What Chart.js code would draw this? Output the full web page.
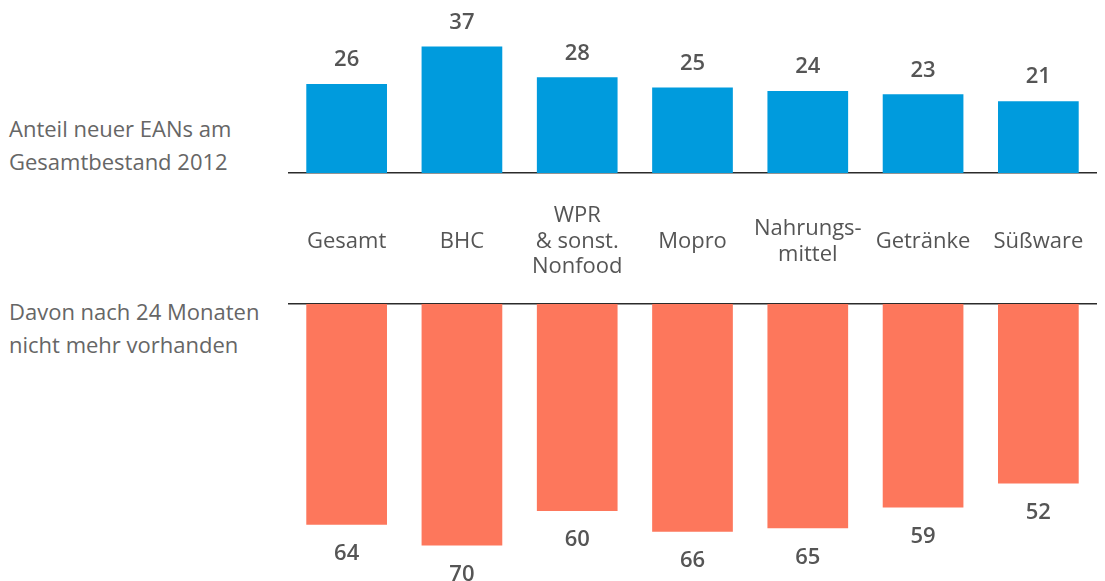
<!DOCTYPE html>
<html lang="de">
<head>
<meta charset="utf-8">
<title>Neue EANs</title>
<script src="https://cdn.jsdelivr.net/npm/chart.js@4.4.1/dist/chart.umd.min.js"></script>
<style>
  html, body { margin: 0; padding: 0; background: #fff; }
  body { width: 1105px; height: 581px; position: relative; overflow: hidden; font-family: 'Open Sans', sans-serif; }
  canvas { position: absolute; left: 0; }
  #topChart { top: 0; }
  #bottomChart { top: 290px; }
  .side { position: absolute; left: 9px; font-size: 22px; line-height: 33px; color: #666; }
</style>
</head>
<body>
<div class="side" style="top:112px">Anteil neuer EANs am<br>Gesamtbestand 2012</div>
<div class="side" style="top:295px">Davon nach 24 Monaten<br>nicht mehr vorhanden</div>
<canvas id="topChart" width="1105" height="290"></canvas>
<canvas id="bottomChart" width="1105" height="291"></canvas>
<script>
const categories = [
    'Gesamt',
    'BHC',
    ['WPR', '& sonst.', 'Nonfood'],
    'Mopro',
    ['Nahrungs-', 'mittel'],
    'Getränke',
    'Süßware'
];
const newShare = [26, 37, 28, 25, 24, 23, 21];      // Anteil neuer EANs 2012
const goneAfter24 = [64, 70, 60, 66, 65, 59, 52];   // nach 24 Monaten weg

// numbers above / below each bar
const valueLabels = {
    id: 'valueLabels',
    afterDatasetsDraw(chart, args, opts) {
        const ctx = chart.ctx;
        const meta = chart.getDatasetMeta(0);
        const values = chart.data.datasets[0].data;
        ctx.save();
        ctx.font = '600 22px "Open Sans", sans-serif';
        ctx.fillStyle = '#555';
        ctx.textAlign = 'center';
        ctx.textBaseline = 'middle';
        meta.data.forEach((bar, i) => {
            ctx.fillText(values[i], bar.x, bar.y + opts.offset);
        });
        ctx.restore();
    }
};

const barBase = {
    categoryPercentage: 1,
    barPercentage: 0.7,
    borderWidth: 0
};

new Chart(document.getElementById('topChart'), {
    type: 'bar',
    data: {
        labels: categories,
        datasets: [Object.assign({ data: newShare, backgroundColor: '#009bdd' }, barBase)]
    },
    plugins: [valueLabels],
    options: {
        responsive: false,
        animation: false,
        layout: { padding: { left: 289, right: 9, top: 2, bottom: 0 } },
        plugins: {
            legend: { display: false },
            tooltip: { enabled: false },
            valueLabels: { offset: -24 }
        },
        scales: {
            x: {
                position: 'bottom',
                // invisible tick marks push the category names down
                grid: {
                    display: true,
                    drawOnChartArea: false,
                    drawTicks: true,
                    tickLength: 30,
                    color: 'rgba(0,0,0,0)'
                },
                border: { display: true, color: '#2b2b2b', width: 1.5 },
                ticks: {
                    color: '#555',
                    font: { family: 'Open Sans', size: 22, lineHeight: 1.16 },
                    padding: 13,
                    crossAlign: 'center',
                    maxRotation: 0,
                    autoSkip: false
                },
                afterFit(scale) { scale.height = 117; }
            },
            y: { display: false, min: 0, max: 50 }
        }
    }
});

new Chart(document.getElementById('bottomChart'), {
    type: 'bar',
    data: {
        labels: categories,
        datasets: [Object.assign({ data: goneAfter24, backgroundColor: '#fd775c' }, barBase)]
    },
    plugins: [valueLabels],
    options: {
        responsive: false,
        animation: false,
        layout: { padding: { left: 289, right: 9, top: 0, bottom: 1 } },
        plugins: {
            legend: { display: false },
            tooltip: { enabled: false },
            valueLabels: { offset: 29 }
        },
        scales: {
            x: {
                position: 'top',
                grid: { display: false, drawTicks: false },
                border: { display: true, color: '#2b2b2b', width: 1.5 },
                ticks: { display: false },
                afterFit(scale) { scale.height = 14; }
            },
            y: { display: false, min: 0, max: 80, reverse: true }
        }
    }
});
</script>
</body>
</html>
